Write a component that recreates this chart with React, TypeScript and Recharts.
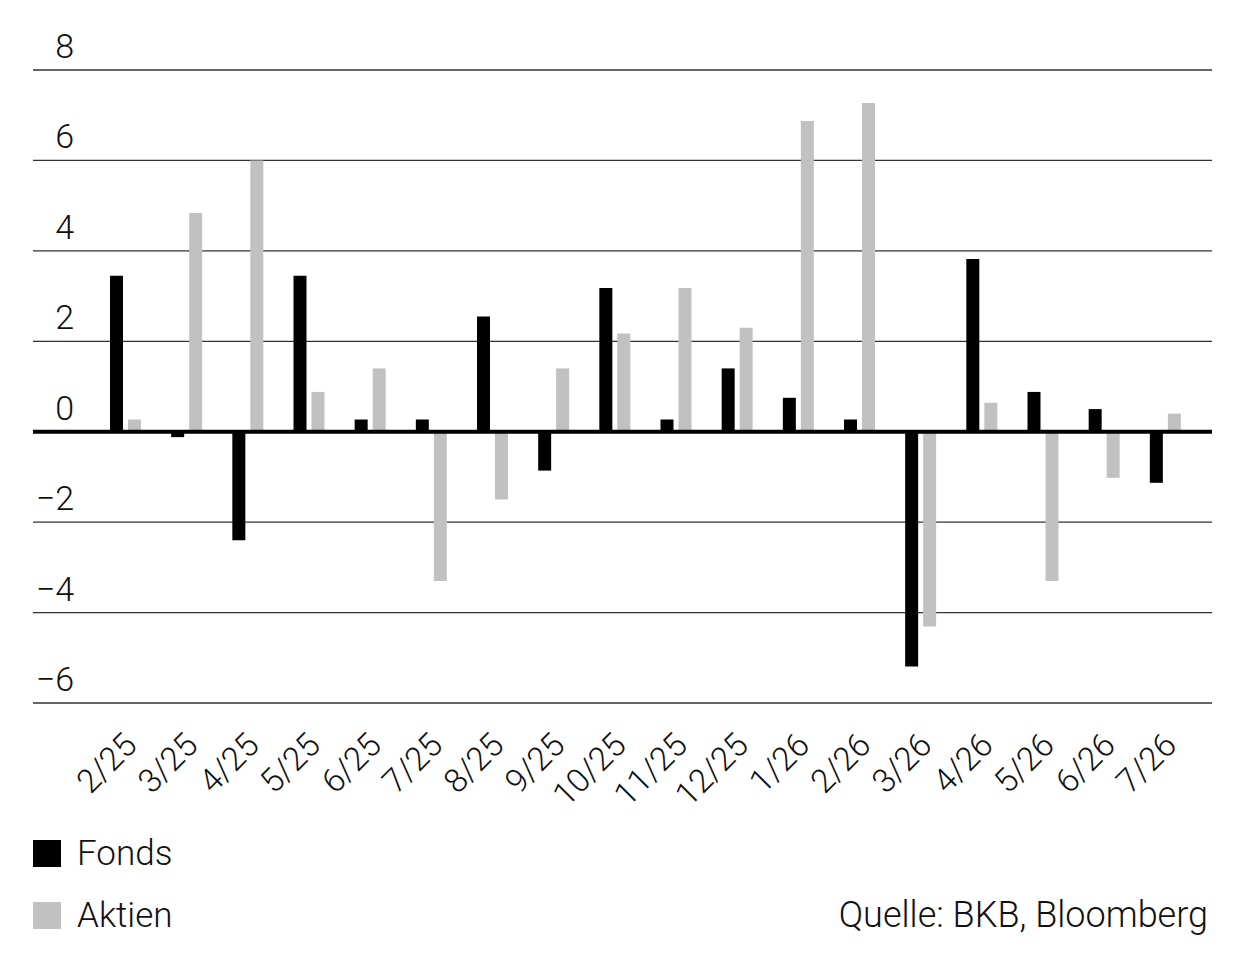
import * as React from "react";
import {
  BarChart,
  Bar,
  XAxis,
  YAxis,
  CartesianGrid,
  ReferenceLine,
} from "recharts";

const categories = [
  "2/25", "3/25", "4/25", "5/25", "6/25", "7/25", "8/25", "9/25", "10/25",
  "11/25", "12/25", "1/26", "2/26", "3/26", "4/26", "5/26", "6/26", "7/26",
];
const fonds = [
  3.45, -0.12, -2.4, 3.45, 0.27, 0.27, 2.55, -0.86, 3.18,
  0.27, 1.4, 0.75, 0.27, -5.19, 3.82, 0.88, 0.5, -1.13,
];
const aktien = [
  0.27, 4.84, 6.0, 0.88, 1.4, -3.3, -1.5, 1.4, 2.17,
  3.18, 2.3, 6.87, 7.27, -4.31, 0.64, -3.3, -1.02, 0.4,
];
const yTicks = [-6, -4, -2, 0, 2, 4, 6, 8];

const FONT = "Roboto, 'Liberation Sans', sans-serif";
const GRAY = "#c1c1c1";

const data = categories.map((name, i) => ({
  name,
  fonds: fonds[i],
  aktien: aktien[i],
}));

const fmt = (v: number) => (v < 0 ? "\u2212" + Math.abs(v) : String(v));

const YTick = (props: any) => {
  const { y, payload } = props;
  return (
    <text
      x={74}
      y={y - 12}
      textAnchor="end"
      fontFamily={FONT}
      fontWeight={300}
      fontSize={34}
      fill="#111"
    >
      {fmt(payload.value)}
    </text>
  );
};

const XTick = (props: any) => {
  const { x, y, payload } = props;
  return (
    <g transform={`translate(${x + 13},${y + 36})`}>
      <text
        transform="rotate(-45)"
        textAnchor="end"
        fontFamily={FONT}
        fontWeight={300}
        fontSize={33}
        fill="#111"
      >
        {payload.value}
      </text>
    </g>
  );
};

const legendItems = [
  { label: "Fonds", color: "#000", top: 840 },
  { label: "Aktien", color: GRAY, top: 902 },
];

export default function App() {
  return (
    <div
      style={{
        position: "absolute",
        left: 0,
        top: 0,
        width: 1246,
        height: 965,
        background: "#fff",
        fontFamily: FONT,
      }}
    >
      <BarChart
        width={1246}
        height={965}
        data={data}
        margin={{ top: 70, right: 34, bottom: 202, left: 33 }}
        barSize={13}
        barGap={5}
      >
        <CartesianGrid
          vertical={false}
          stroke="#333"
          strokeWidth={1.3}
          horizontalValues={yTicks}
        />
        <XAxis
          dataKey="name"
          axisLine={false}
          tickLine={false}
          interval={0}
          height={60}
          padding={{ left: 62, right: 16 }}
          tick={<XTick />}
        />
        <YAxis
          mirror
          width={60}
          domain={[-6, 8]}
          ticks={yTicks}
          axisLine={false}
          tickLine={false}
          tick={<YTick />}
        />
        <Bar dataKey="fonds" fill="#000" isAnimationActive={false} />
        <Bar dataKey="aktien" fill={GRAY} isAnimationActive={false} />
        <ReferenceLine y={0} stroke="#000" strokeWidth={4} />
      </BarChart>
      {legendItems.map((it) => (
        <div
          key={it.label}
          style={{
            position: "absolute",
            left: 33,
            top: it.top,
            display: "flex",
            alignItems: "center",
          }}
        >
          <div style={{ width: 28, height: 27, background: it.color }} />
          <span
            style={{
              marginLeft: 16,
              fontSize: 35,
              fontWeight: 300,
              color: "#111",
              lineHeight: "27px",
            }}
          >
            {it.label}
          </span>
        </div>
      ))}
      <div
        style={{
          position: "absolute",
          right: 1246 - 1208,
          top: 902,
          fontSize: 36,
          fontWeight: 300,
          color: "#111",
          lineHeight: "27px",
        }}
      >
        Quelle: BKB, Bloomberg
      </div>
    </div>
  );
}
